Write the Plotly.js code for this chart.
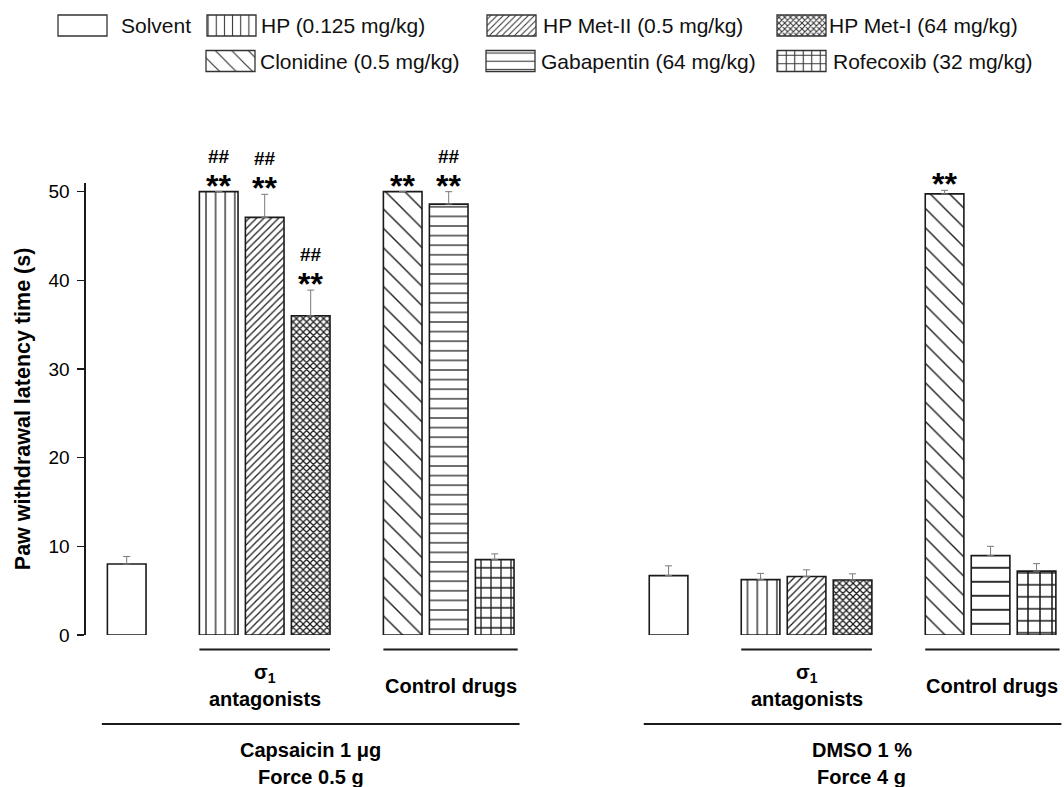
<!DOCTYPE html>
<html>
<head>
<meta charset="utf-8">
<script src="https://cdn.plot.ly/plotly-3.0.1.min.js"></script>
<style>
html,body{margin:0;padding:0;background:#ffffff;}
#chart{width:1064px;height:787px;}
</style>
</head>
<body>
<div id="chart"></div>
<script>
// ---------------- data ----------------
const treatments = ["Solvent", "HP (0.125 mg/kg)", "HP Met-II (0.5 mg/kg)", "HP Met-I (64 mg/kg)",
                    "Clonidine (0.5 mg/kg)", "Gabapentin (64 mg/kg)", "Rofecoxib (32 mg/kg)"];
const conditions = [["Capsaicin 1 μg", "Force 0.5 g"], ["DMSO 1 %", "Force 4 g"]];
const groupLabels = [["σ<sub>1</sub>", "antagonists"], ["Control drugs"]];

const capsaicinMean = [8.0, 50.0, 47.1, 36.0, 50.0, 48.6, 8.5];
const capsaicinSem  = [0.85, null, 2.6, 2.9, null, 1.4, 0.65];
const capsaicinStars = ["", "**", "**", "**", "**", "**", ""];
const capsaicinHash  = ["", "##", "##", "##", "", "##", ""];

const dmsoMean = [6.7, 6.25, 6.6, 6.2, 49.75, 8.95, 7.2];
const dmsoSem  = [1.1, 0.7, 0.75, 0.7, 0.4, 1.05, 0.85];
const dmsoStars = ["", "", "", "", "**", "", ""];
const dmsoHash  = ["", "", "", "", "", "", ""];

const yTicks = [0, 10, 20, 30, 40, 50];
const yTitle = "Paw withdrawal latency time (s)";

// ---------------- layout / style ----------------
const W = 1064, H = 787;
const pxX = v => v / W;
const pxY = v => 1 - v / H;
const slot = [0, 2, 3, 4, 6, 7, 8];          // slot of each treatment inside a panel
const panelOffset = [0, 11.78];               // panel start (slot units)
const groups = [[1, 2, 3], [4, 5, 6]];        // treatment indices of the label groups
const barWidth = 0.84;
const xRange = [-0.885, 20.333];
const INK = "#1a1a1a";
const FONT = "Liberation Sans, Arial, Helvetica, sans-serif";

const patterns = [
  {shape: "",   size: [8, 8],       solidity: 0.2},
  {shape: "|",  size: [9.6, 9.8],   solidity: 0.13},
  {shape: "/",  size: [5.2, 5.2],   solidity: 0.24},
  {shape: "x",  size: [4.8, 4.8],   solidity: 0.45},
  {shape: "\\", size: [13.7, 13.7], solidity: 0.1},
  {shape: "-",  size: [9.6, 14],    solidity: 0.13},
  {shape: "+",  size: [10, 12],     solidity: 0.24}
];
const swatchW = 49, swatchH = 21;
const legendPos = [ // [swatch left px, row center px, label left px]
  [58, 25.5, 121], [207, 25.5, 261], [487, 25.5, 543], [777, 25.5, 829],
  [206, 61, 260], [486, 61, 541], [777, 61, 833]
];

const panels = [
  {mean: capsaicinMean, sem: capsaicinSem, stars: capsaicinStars, hash: capsaicinHash},
  {mean: dmsoMean, sem: dmsoSem, stars: dmsoStars, hash: dmsoHash}
];

const traces = [];
const annotations = [];
const shapes = [];

treatments.forEach((name, i) => {
  const p = patterns[i];
  traces.push({
    type: "bar",
    name: name,
    x: panels.map((pn, k) => slot[i] + panelOffset[k]),
    y: panels.map(pn => pn.mean[i]),
    width: barWidth,
    error_y: {
      type: "data", symmetric: false,
      array: panels.map(pn => pn.sem[i]),
      arrayminus: panels.map(pn => pn.sem[i] == null ? null : 0),
      color: "#7a7a7a", thickness: 1, width: 3.5
    },
    marker: {
      color: "#ffffff",
      line: {color: INK, width: 1.6},
      pattern: {shape: p.shape, size: p.size, solidity: p.solidity, fgcolor: INK, bgcolor: "#ffffff", fillmode: "replace"}
    },
    showlegend: false,
    hoverinfo: "skip"
  });
  // legend key swatch (a bar on a hidden pixel axis)
  const lp = legendPos[i];
  traces.push({
    type: "bar",
    name: name + " (key)",
    x: [lp[0] + swatchW / 2], y: [swatchH], base: [lp[1] - swatchH / 2], width: swatchW,
    xaxis: "x2", yaxis: "y2",
    marker: {
      color: "#ffffff",
      line: {color: "#333333", width: 1.3},
      pattern: {shape: p.shape, size: p.size[0] * 0.85, solidity: p.solidity, fgcolor: "#333333", bgcolor: "#ffffff", fillmode: "replace"}
    },
    showlegend: false,
    hoverinfo: "skip"
  });
  annotations.push({
    xref: "paper", yref: "paper", x: pxX(lp[2] - 2), y: pxY(lp[1]),
    xanchor: "left", yanchor: "middle", showarrow: false,
    text: name, font: {family: FONT, size: 21, color: "#111111"}
  });
});

// significance marks
panels.forEach((pn, k) => {
  treatments.forEach((name, i) => {
    const top = pn.mean[i] + (pn.sem[i] || 0);
    const x = slot[i] + panelOffset[k];
    if (pn.stars[i]) annotations.push({
      xref: "x", yref: "y", x: x, y: top, xanchor: "center", yanchor: "bottom",
      yshift: -14, showarrow: false, text: pn.stars[i],
      font: {family: FONT, size: 32, color: "#000000", weight: "bold"}
    });
    if (pn.hash[i]) annotations.push({
      xref: "x", yref: "y", x: x, y: top, xanchor: "center", yanchor: "bottom",
      yshift: 23, showarrow: false, text: pn.hash[i],
      font: {family: FONT, size: 19, color: "#000000", weight: "bold"}
    });
  });
});

// group brackets and labels
panels.forEach((pn, k) => {
  groups.forEach((g, gi) => {
    const x0 = slot[g[0]] + panelOffset[k] - barWidth / 2;
    const x1 = slot[g[g.length - 1]] + panelOffset[k] + barWidth / 2 + (gi === 1 ? 0.08 : 0);
    shapes.push({type: "line", xref: "x", yref: "paper", x0: x0, x1: x1,
                 y0: pxY(649.5), y1: pxY(649.5), line: {color: INK, width: 2.2}});
    const lines = groupLabels[gi];
    lines.forEach((t, li) => {
      const yc = 686 + (li - (lines.length - 1) / 2) * 26;
      annotations.push({xref: "x", yref: "paper", x: (x0 + x1) / 2, y: pxY(yc),
        xanchor: "center", yanchor: "middle", showarrow: false, text: t,
        font: {family: FONT, size: 20, color: "#000000", weight: "bold"}});
    });
  });
  const bx0 = slot[0] + panelOffset[k] - barWidth / 2 - 0.12;
  const bx1 = slot[slot.length - 1] + panelOffset[k] + barWidth / 2 + 0.12;
  shapes.push({type: "line", xref: "x", yref: "paper", x0: bx0, x1: bx1,
               y0: pxY(724), y1: pxY(724), line: {color: INK, width: 2.2}});
  conditions[k].forEach((t, li) => {
    annotations.push({xref: "x", yref: "paper", x: (bx0 + bx1) / 2 + (k === 1 ? 0.2 : 0), y: pxY(750 + li * 27),
      xanchor: "center", yanchor: "middle", showarrow: false, text: t,
      font: {family: FONT, size: 20, color: "#000000", weight: "bold"}});
  });
});

const layout = {
  width: W, height: H,
  margin: {l: 0, r: 0, t: 0, b: 0},
  paper_bgcolor: "#ffffff", plot_bgcolor: "rgba(0,0,0,0)",
  barmode: "overlay",
  showlegend: false,
  font: {family: FONT, color: "#000000"},
  xaxis: {domain: [pxX(86), pxX(1062)], range: xRange, visible: false, fixedrange: true},
  yaxis: {
    domain: [1 - 635 / H, 1 - 182.8 / H], range: [0, 51],
    tickvals: yTicks, ticktext: yTicks.map(String),
    showline: true, linecolor: INK, linewidth: 1.6,
    ticks: "outside", ticklen: 7, tickwidth: 1.6, tickcolor: INK,
    tickfont: {family: FONT, size: 19, color: "#000000"},
    ticklabelstandoff: 4,
    showgrid: false, zeroline: false, fixedrange: true,
    title: {text: yTitle, font: {family: FONT, size: 21.5, color: "#000000", weight: "bold"}, standoff: 12}
  },
  xaxis2: {domain: [0, 1], range: [0, W], visible: false, fixedrange: true, anchor: "y2"},
  yaxis2: {domain: [1 - 90 / H, 1], range: [90, 0], visible: false, fixedrange: true, anchor: "x2"},
  shapes: shapes,
  annotations: annotations
};

Plotly.newPlot("chart", traces, layout, {staticPlot: true, displayModeBar: false});
</script>
</body>
</html>
